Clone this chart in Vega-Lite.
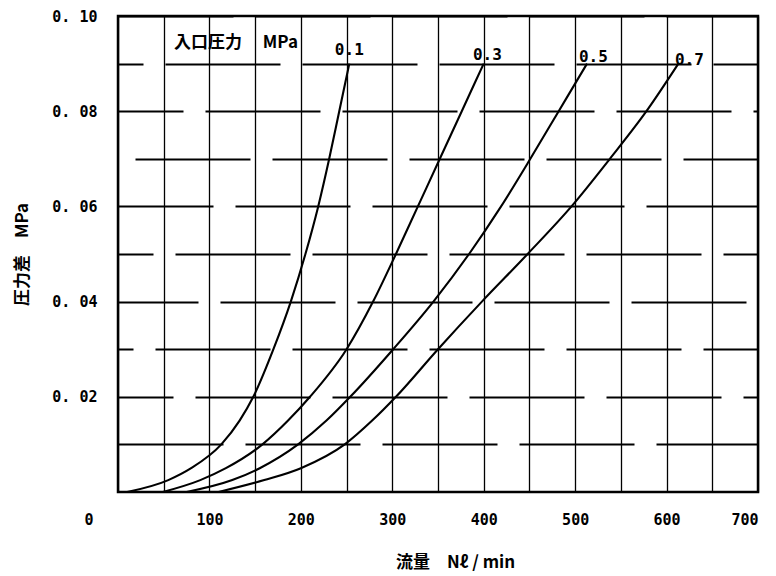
{
  "$schema": "https://vega.github.io/schema/vega-lite/v6.json",
  "width": 640,
  "height": 476,
  "autosize": {"type": "none"},
  "padding": {"left": 118, "top": 16, "right": 18, "bottom": 84},
  "background": "white",
  "config": {
    "view": {"stroke": "black", "strokeWidth": 2.5},
    "axis": {"domain": false, "ticks": false, "labelColor": "black", "titleColor": "black"}
  },
  "datasets": {
    "curves": [
      {"inlet": "0.1", "flow": 10, "dp": 0},
      {"inlet": "0.1", "flow": 55, "dp": 0.0025},
      {"inlet": "0.1", "flow": 80, "dp": 0.005},
      {"inlet": "0.1", "flow": 113, "dp": 0.01},
      {"inlet": "0.1", "flow": 133, "dp": 0.015},
      {"inlet": "0.1", "flow": 148, "dp": 0.02},
      {"inlet": "0.1", "flow": 170, "dp": 0.03},
      {"inlet": "0.1", "flow": 189, "dp": 0.04},
      {"inlet": "0.1", "flow": 205, "dp": 0.05},
      {"inlet": "0.1", "flow": 219, "dp": 0.06},
      {"inlet": "0.1", "flow": 231, "dp": 0.07},
      {"inlet": "0.1", "flow": 242, "dp": 0.08},
      {"inlet": "0.1", "flow": 253, "dp": 0.09},
      {"inlet": "0.3", "flow": 49, "dp": 0},
      {"inlet": "0.3", "flow": 90, "dp": 0.0025},
      {"inlet": "0.3", "flow": 118, "dp": 0.005},
      {"inlet": "0.3", "flow": 158, "dp": 0.01},
      {"inlet": "0.3", "flow": 186, "dp": 0.015},
      {"inlet": "0.3", "flow": 210, "dp": 0.02},
      {"inlet": "0.3", "flow": 250, "dp": 0.03},
      {"inlet": "0.3", "flow": 279, "dp": 0.04},
      {"inlet": "0.3", "flow": 304, "dp": 0.05},
      {"inlet": "0.3", "flow": 328, "dp": 0.06},
      {"inlet": "0.3", "flow": 352, "dp": 0.07},
      {"inlet": "0.3", "flow": 376, "dp": 0.08},
      {"inlet": "0.3", "flow": 400, "dp": 0.09},
      {"inlet": "0.5", "flow": 75, "dp": 0},
      {"inlet": "0.5", "flow": 125, "dp": 0.0025},
      {"inlet": "0.5", "flow": 155, "dp": 0.005},
      {"inlet": "0.5", "flow": 197, "dp": 0.01},
      {"inlet": "0.5", "flow": 228, "dp": 0.015},
      {"inlet": "0.5", "flow": 254, "dp": 0.02},
      {"inlet": "0.5", "flow": 301, "dp": 0.03},
      {"inlet": "0.5", "flow": 345, "dp": 0.04},
      {"inlet": "0.5", "flow": 384, "dp": 0.05},
      {"inlet": "0.5", "flow": 419, "dp": 0.06},
      {"inlet": "0.5", "flow": 451, "dp": 0.07},
      {"inlet": "0.5", "flow": 482, "dp": 0.08},
      {"inlet": "0.5", "flow": 513, "dp": 0.09},
      {"inlet": "0.7", "flow": 110, "dp": 0},
      {"inlet": "0.7", "flow": 160, "dp": 0.0025},
      {"inlet": "0.7", "flow": 200, "dp": 0.005},
      {"inlet": "0.7", "flow": 248, "dp": 0.01},
      {"inlet": "0.7", "flow": 278, "dp": 0.015},
      {"inlet": "0.7", "flow": 304, "dp": 0.02},
      {"inlet": "0.7", "flow": 350, "dp": 0.03},
      {"inlet": "0.7", "flow": 398, "dp": 0.04},
      {"inlet": "0.7", "flow": 448, "dp": 0.05},
      {"inlet": "0.7", "flow": 496, "dp": 0.06},
      {"inlet": "0.7", "flow": 538, "dp": 0.07},
      {"inlet": "0.7", "flow": 578, "dp": 0.08},
      {"inlet": "0.7", "flow": 613, "dp": 0.09}
    ],
    "labels": [
      {"kind": "curve", "label": "0.1", "flow": 253, "dp": 0.0929},
      {"kind": "curve", "label": "0.3", "flow": 404, "dp": 0.0918},
      {"kind": "curve", "label": "0.5", "flow": 520, "dp": 0.0914},
      {"kind": "curve", "label": "0.7", "flow": 625, "dp": 0.0908},
      {"kind": "legend", "label": "入口圧力\u3000\u00a0MPa", "flow": 129, "dp": 0.0943}
    ]
  },
  "layer": [
    {
      "data": {"name": "curves"},
      "mark": {"type": "line", "interpolate": "monotone", "color": "black", "strokeWidth": 2.1},
      "encoding": {
        "x": {
          "field": "flow", "type": "quantitative",
          "scale": {"domain": [0, 700], "nice": false, "zero": false},
          "axis": {
            "values": [0, 50, 100, 150, 200, 250, 300, 350, 400, 450, 500, 550, 600, 650, 700],
            "grid": true, "gridColor": "black", "gridWidth": 1.3,
            "labelExpr": "datum.value % 100 == 0 ? '' + datum.value : ''",
            "labelOffset": {"condition": {"test": "datum.value == 0", "value": -34}, "value": 0},
            "labelPadding": 20,
            "labelFont": "DejaVu Sans Mono", "labelFontWeight": "bold", "labelFontSize": 15,
            "title": "流量\u3000Nℓ / min",
            "titleFont": "Noto Sans CJK JP", "titleFontSize": 17, "titleFontWeight": "bold",
            "titleX": 337, "titleY": 70, "titleBaseline": "middle"
          }
        },
        "y": {
          "field": "dp", "type": "quantitative",
          "scale": {"domain": [0, 0.1], "nice": false, "zero": true},
          "axis": {
            "values": [0.01, 0.02, 0.03, 0.04, 0.05, 0.06, 0.07, 0.08, 0.09, 0.1],
            "grid": true, "gridColor": "black", "gridWidth": 2,
            "gridDash": [115, 22],
            "gridDashOffset": {
              "condition": [
                {"test": "round(datum.value*100) == 1", "value": 10},
                {"test": "round(datum.value*100) == 2", "value": 60},
                {"test": "round(datum.value*100) == 3", "value": 100},
                {"test": "round(datum.value*100) == 4", "value": 35},
                {"test": "round(datum.value*100) == 5", "value": 80},
                {"test": "round(datum.value*100) == 6", "value": 20},
                {"test": "round(datum.value*100) == 7", "value": 120},
                {"test": "round(datum.value*100) == 8", "value": 50},
                {"test": "round(datum.value*100) == 9", "value": 90}
              ],
              "value": 0
            },
            "labelExpr": "round(datum.value*100) % 2 == 1 ? '' : '0. ' + (round(datum.value*100) < 10 ? '0' : '') + round(datum.value*100)",
            "labelPadding": 21,
            "labelFont": "DejaVu Sans Mono", "labelFontWeight": "bold", "labelFontSize": 15,
            "title": "圧力差\u3000MPa",
            "titleFont": "Noto Sans CJK JP", "titleFontSize": 17, "titleFontWeight": "bold",
            "titleX": -96, "titleY": 238, "titleBaseline": "middle"
          }
        },
        "detail": {"field": "inlet", "type": "nominal"}
      }
    },
    {
      "data": {"name": "labels"},
      "transform": [{"filter": "datum.kind == 'curve'"}],
      "mark": {"type": "text", "font": "DejaVu Sans Mono", "fontWeight": "bold", "fontSize": 16, "color": "black", "align": "center", "baseline": "middle"},
      "encoding": {
        "x": {"field": "flow", "type": "quantitative"},
        "y": {"field": "dp", "type": "quantitative"},
        "text": {"field": "label", "type": "nominal"}
      }
    },
    {
      "data": {"name": "labels"},
      "transform": [{"filter": "datum.kind == 'legend'"}],
      "mark": {"type": "text", "font": "Noto Sans CJK JP", "fontWeight": "bold", "fontSize": 17, "color": "black", "align": "center", "baseline": "middle"},
      "encoding": {
        "x": {"field": "flow", "type": "quantitative"},
        "y": {"field": "dp", "type": "quantitative"},
        "text": {"field": "label", "type": "nominal"}
      }
    }
  ]
}
